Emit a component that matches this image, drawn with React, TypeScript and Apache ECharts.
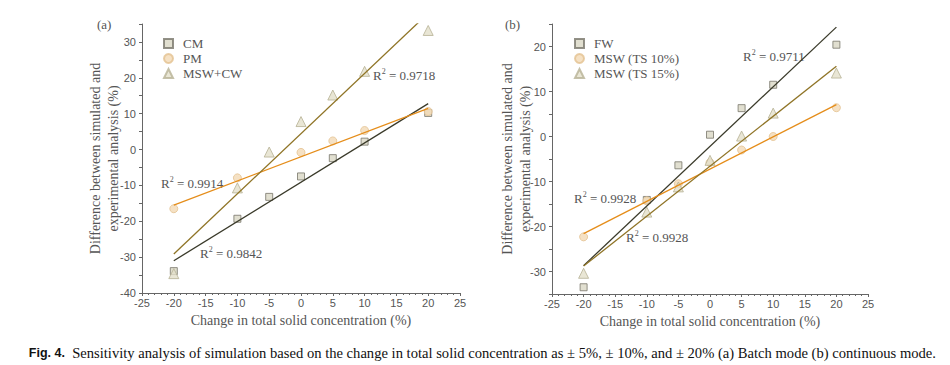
import React, { useEffect, useRef } from "react";
import * as echarts from "echarts";

// ---- Data ----
const xLevels = [-20, -10, -5, 0, 5, 10, 20];
const pmLevels = [-20, -10, 0, 5, 10, 20];

// Panel (a) batch mode
const cmValues = [-33.9, -19.3, -13.2, -7.5, -2.4, 2.2, 10.2];
const pmValues = [-16.5, -7.9, -0.8, 2.4, 5.3, 10.6];
const mswcwValues = [-34.6, -10.7, -0.7, 7.8, 15.2, 21.8, 33.2];

// Panel (b) continuous mode
const fwValues = [-33.5, -14.1, -6.4, 0.4, 6.3, 11.5, 20.4];
const ts10Values = [-22.3, -14.3, -10.5, -5.8, -3.0, 0.0, 6.4];
const ts15Values = [-30.4, -16.8, -11.2, -5.3, 0.1, 5.2, 14.1];

// Linear fit end points (x = -20 and x = 20)
const fitX = [-20, 20];
const fitCM = [-31.0, 12.8];
const fitPM = [-15.5, 11.5];
const fitMSWCW = [-29.1, 38.0];
const fitFW = [-28.7, 24.3];
const fitTS10 = [-21.6, 7.1];
const fitTS15 = [-28.8, 15.6];

const r2Labels = ["0.9718", "0.9914", "0.9842", "0.9711", "0.9928", "0.9928"];

const SERIF = "'Liberation Serif', 'Times New Roman', serif";
const SANS = "'Liberation Sans', Arial, sans-serif";
const TXT = "#555";

const DARK = "#3a3a2a";
const ORANGE = "#e58d1a";
const OLIVE = "#8f7426";

const sqStyle = { color: "#dad7c4", borderColor: "#78766a", borderWidth: 1 };
const ciStyle = { color: "#f3dab5", borderColor: "#e4c291", borderWidth: 1 };
const trStyle = { color: "#e4e0ca", borderColor: "#b6b195", borderWidth: 1 };

const pairs = (xs: number[], ys: number[]) => xs.map((x, i) => [x, ys[i]]);

function App() {
  const ref = useRef<HTMLDivElement>(null);
  useEffect(() => {
    if (!ref.current) return;
    const chart = echarts.init(ref.current, null, { renderer: "svg" });

    const xAxisBase = (gridIndex: number) => ({
      type: "value",
      gridIndex,
      min: -25,
      max: 25,
      interval: 5,
      name: "Change in total solid concentration (%)",
      nameLocation: "middle",
      nameGap: 20,
      nameMoveOverlap: false,
      nameTextStyle: { fontFamily: SERIF, fontSize: 14, color: TXT },
      axisLine: { show: true, onZero: false, lineStyle: { color: "#666", width: 1 } },
      axisTick: { show: true, inside: false, length: 3, lineStyle: { color: "#666" } },
      minorTick: { show: true, splitNumber: 5, length: 2, lineStyle: { color: "#666" } },
      axisLabel: { fontFamily: SANS, fontSize: 11, color: TXT, margin: 4 },
      splitLine: { show: false },
    });

    const yAxisBase = (gridIndex: number, min: number, max: number, gap: number) => ({
      type: "value",
      gridIndex,
      min,
      max,
      interval: 5,
      name: "Difference between simulated and\nexperimental analysis (%)",
      nameLocation: "middle",
      nameRotate: 90,
      nameGap: gap,
      nameMoveOverlap: false,
      nameTextStyle: { fontFamily: SERIF, fontSize: 14, color: TXT, lineHeight: 18 },
      axisLine: { show: true, onZero: false, lineStyle: { color: "#666", width: 1 } },
      axisTick: { show: true, inside: false, length: 3, lineStyle: { color: "#666" } },
      axisLabel: {
        fontFamily: SANS,
        fontSize: 11,
        color: TXT,
        margin: 6,
        formatter: (v: number) => (v % 10 === 0 ? String(v) : ""),
      },
      splitLine: { show: false },
    });

    const scatter = (name: string, xs: number[], ys: number[], idx: number, symbol: string, size: number, style: any) => ({
      name,
      type: "scatter",
      xAxisIndex: idx,
      yAxisIndex: idx,
      data: pairs(xs, ys),
      symbol,
      symbolSize: size,
      itemStyle: style,
      z: 3,
    });

    const fit = (name: string, ys: number[], idx: number, color: string) => ({
      name,
      type: "line",
      xAxisIndex: idx,
      yAxisIndex: idx,
      data: pairs(fitX, ys),
      showSymbol: false,
      symbol: "none",
      clip: true,
      lineStyle: { color, width: 1.3 },
      z: 4,
    });

    const r2 = (val: string, x: number, y: number) => ({
      type: "text",
      x,
      y,
      style: {
        text: "R{s|2} = " + val,
        fontFamily: SERIF,
        fontSize: 13,
        fill: TXT,
        verticalAlign: "middle",
        rich: {
          s: { fontFamily: SERIF, fontSize: 8, fill: TXT, padding: [0, 0, 7, 0] },
        },
      },
    });

    const legendBase = {
      orient: "vertical",
      itemWidth: 9,
      itemHeight: 9,
      itemGap: 0,
      textStyle: { fontFamily: SERIF, fontSize: 13, color: TXT, lineHeight: 15, padding: [0, 0, 0, 5] },
    };

    chart.setOption({
      animation: false,
      backgroundColor: "#fff",
      grid: [
        { left: 142, right: 490, top: 24, bottom: 72 },
        { left: 552, right: 82, top: 24, bottom: 71 },
      ],
      xAxis: [xAxisBase(0), xAxisBase(1)],
      yAxis: [yAxisBase(0, -40, 35, 20), yAxisBase(1, -35, 25, 18)],
      legend: [
        { ...legendBase, left: 158, top: 31, data: ["CM", "PM", "MSW+CW"] },
        { ...legendBase, left: 569, top: 31, data: ["FW", "MSW (TS 10%)", "MSW (TS 15%)"] },
      ],
      series: [
        fit("fit CM", fitCM, 0, DARK),
        fit("fit PM", fitPM, 0, ORANGE),
        fit("fit MSW+CW", fitMSWCW, 0, OLIVE),
        scatter("CM", xLevels, cmValues, 0, "rect", 7, sqStyle),
        scatter("PM", pmLevels, pmValues, 0, "circle", 8, ciStyle),
        scatter("MSW+CW", xLevels, mswcwValues, 0, "triangle", 10, trStyle),
        fit("fit FW", fitFW, 1, DARK),
        fit("fit TS10", fitTS10, 1, ORANGE),
        fit("fit TS15", fitTS15, 1, OLIVE),
        scatter("FW", xLevels, fwValues, 1, "rect", 7, sqStyle),
        scatter("MSW (TS 10%)", xLevels, ts10Values, 1, "circle", 8, ciStyle),
        scatter("MSW (TS 15%)", xLevels, ts15Values, 1, "triangle", 10, trStyle),
      ],
      graphic: [
        { type: "text", x: 97, y: 24, style: { text: "(a)", fontFamily: SERIF, fontSize: 13, fill: TXT, verticalAlign: "middle" } },
        { type: "text", x: 505, y: 24, style: { text: "(b)", fontFamily: SERIF, fontSize: 13, fill: TXT, verticalAlign: "middle" } },
        r2(r2Labels[0], 373, 75),
        r2(r2Labels[1], 161, 183),
        r2(r2Labels[2], 200, 253),
        r2(r2Labels[3], 743, 56),
        r2(r2Labels[4], 574, 198),
        r2(r2Labels[5], 626, 237),
        {
          type: "text",
          x: 936,
          y: 353,
          style: {
            text: "{b|Fig. 4.}  Sensitivity analysis of simulation based on the change in total solid concentration as \u00b1 5%, \u00b1 10%, and \u00b1 20% (a) Batch mode (b) continuous mode.",
            fontFamily: SERIF,
            fontSize: 14.6,
            fill: "#111",
            align: "right",
            verticalAlign: "middle",
            rich: {
              b: { fontFamily: SANS, fontWeight: "bold", fontSize: 12.5, fill: "#111" },
            },
          },
        },
      ],
    });

    return () => chart.dispose();
  }, []);

  return (
    <div
      ref={ref}
      style={{ position: "absolute", left: 0, top: 0, width: 950, height: 365, background: "#fff" }}
    />
  );
}

export default App;
